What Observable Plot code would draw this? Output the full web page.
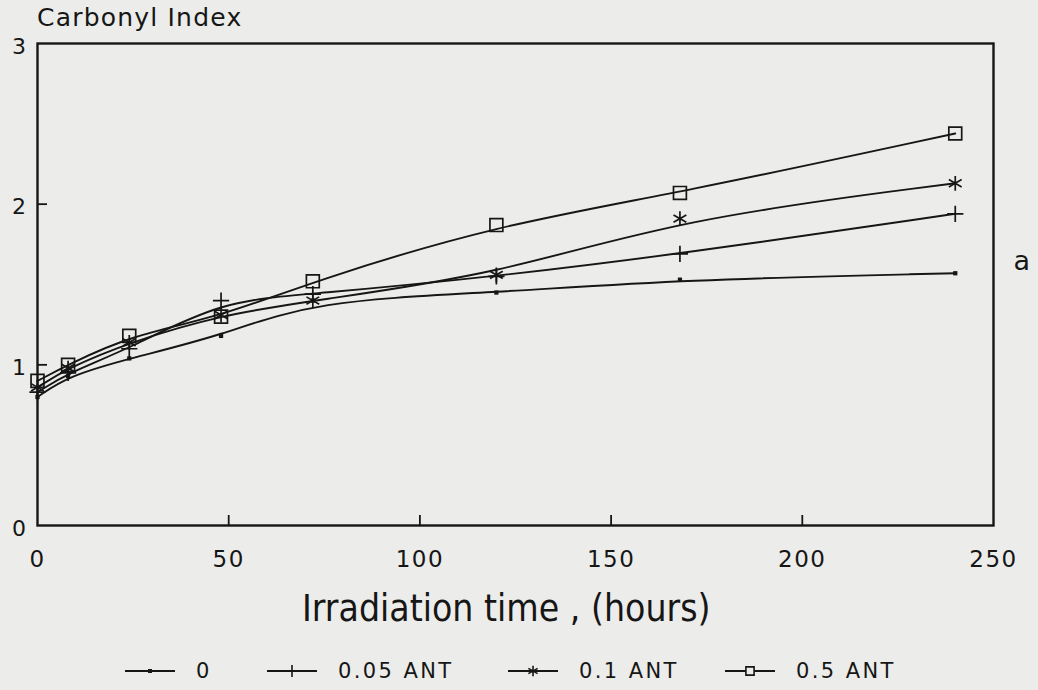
<!DOCTYPE html>
<html>
<head>
<meta charset="utf-8">
<script src="https://cdn.jsdelivr.net/npm/d3@7"></script>
<script src="https://cdn.jsdelivr.net/npm/@observablehq/plot@0.6"></script>
<style>
  html, body { margin: 0; padding: 0; background: #ececea; }
  #wrap { position: relative; width: 1038px; height: 690px; background: #ececea; overflow: hidden; color: #161616; }
  #title { position: absolute; left: 37px; top: 5px; font: 25px "DejaVu Sans", sans-serif; line-height: 25px; letter-spacing: 1.2px; white-space: nowrap; }
  #chart { position: absolute; left: 0; top: 30px; }
  #xlabel { position: absolute; left: 302px; top: 590px; font-family: "DejaVu Sans Condensed", "DejaVu Sans", sans-serif; font-stretch: condensed; font-size: 37px; line-height: 37px; white-space: nowrap; }
  .leg { position: absolute; top: 659px; height: 24px; display: flex; align-items: center; font: 21px "DejaVu Sans", sans-serif; letter-spacing: 2.4px; white-space: nowrap; }
  .leg svg { display: block; margin-right: 21px; }
</style>
</head>
<body>
<div id="wrap">
  <div id="title">Carbonyl Index</div>
  <div id="chart"></div>
  <div id="xlabel">Irradiation time , (hours)</div>
</div>
<script>
// ---- data ----
const hours = [0, 8, 24, 48, 72, 120, 168, 240];
const ci0    = [0.80, 0.93, 1.04, 1.18, 1.40, 1.45, 1.53, 1.57];
const ci005  = [0.83, 0.95, 1.10, 1.40, 1.44, 1.55, 1.69, 1.94];
const ci01   = [0.86, 0.98, 1.14, 1.31, 1.40, 1.56, 1.91, 2.13];
const ci05   = [0.90, 1.00, 1.18, 1.30, 1.52, 1.87, 2.07, 2.44];
const seriesNames = ["0", "0.05 ANT", "0.1 ANT", "0.5 ANT"];
const seriesValues = [ci0, ci005, ci01, ci05];
const xTicks = [0, 50, 100, 150, 200, 250];
const yTicks = [0, 1, 2, 3];
const xInnerTicks = [50, 100, 150, 200];
const yInnerTicks = [1, 2];
const panelLabel = "a";

// ---- styling ----
const ink = "#161616";
const symbolStyle = {
  "0":        {symbol: "square",   r: 2.4, fill: ink,    stroke: "none"},
  "0.05 ANT": {symbol: "plus",     r: 5.3, fill: "none", stroke: ink},
  "0.1 ANT":  {symbol: "asterisk", r: 7.0, fill: "none", stroke: ink},
  "0.5 ANT":  {symbol: "square2",  r: 8.2, fill: "none", stroke: ink}
};
const legendLeft = [125, 267, 508, 725];

const W = 1038, H = 560, mL = 37, mR = 45, mT = 13, mB = 65;
const xDomain = [0, 250], yDomain = [0, 3];
const tickLen = 10;
const xTickLenData = tickLen * (xDomain[1] - xDomain[0]) / (W - mL - mR);
const yTickLenData = tickLen * (yDomain[1] - yDomain[0]) / (H - mT - mB);

const rows = seriesNames.flatMap((s, i) => hours.map((t, j) => ({series: s, t, v: seriesValues[i][j]})));

const marks = [
  Plot.frame({stroke: ink, strokeWidth: 2.4}),
  Plot.ruleY(yInnerTicks, {y: d => d, x1: xDomain[0], x2: xDomain[0] + xTickLenData, stroke: ink, strokeWidth: 1.8}),
  Plot.ruleX(xInnerTicks, {x: d => d, y1: yDomain[0], y2: yDomain[0] + yTickLenData, stroke: ink, strokeWidth: 1.8}),
  Plot.axisY({ticks: yTicks, tickSize: 0, tickPadding: 10, fontSize: 22, dy: 3, label: null, tickFormat: d3.format("d")}),
  Plot.axisX({ticks: xTicks, tickSize: 0, tickPadding: 25, fontSize: 23, label: null, tickFormat: d3.format("d")}),
  Plot.line(rows, {x: "t", y: "v", z: "series", curve: "basis", stroke: ink, strokeWidth: 1.9}),
  ...seriesNames.map(s => Plot.dot(rows.filter(d => d.series === s), {
    x: "t", y: "v", symbol: symbolStyle[s].symbol, r: symbolStyle[s].r,
    fill: symbolStyle[s].fill, stroke: symbolStyle[s].stroke, strokeWidth: 1.7
  })),
  Plot.text([panelLabel], {text: d => d, frameAnchor: "right", textAnchor: "start", dx: 20, dy: -23, fontSize: 27, fill: ink})
];

const chart = Plot.plot({
  width: W, height: H,
  marginLeft: mL, marginRight: mR, marginTop: mT, marginBottom: mB,
  x: {domain: xDomain},
  y: {domain: yDomain},
  style: {background: "transparent", color: ink, fontFamily: "'DejaVu Sans', sans-serif", letterSpacing: "1.5px"},
  marks
});
document.getElementById("chart").appendChild(chart);

// ---- legend (below the plot) ----
const wrap = document.getElementById("wrap");
const symType = {square: d3.symbolSquare, plus: d3.symbolPlus, asterisk: d3.symbolAsterisk, square2: d3.symbolSquare2};
const legendSize = {"0": 16, "0.05 ANT": 48, "0.1 ANT": 80, "0.5 ANT": 85};
seriesNames.forEach((s, i) => {
  const item = document.createElement("div");
  item.className = "leg";
  item.style.left = legendLeft[i] + "px";
  const st = symbolStyle[s];
  const svg = d3.create("svg").attr("width", 50).attr("height", 24);
  svg.append("line").attr("x1", 0).attr("x2", 50).attr("y1", 12).attr("y2", 12)
    .attr("stroke", ink).attr("stroke-width", 1.8);
  svg.append("path").attr("transform", "translate(25,12)")
    .attr("d", d3.symbol(symType[st.symbol], legendSize[s])())
    .attr("fill", st.fill === "none" ? "#ececea" : st.fill).attr("stroke", st.stroke).attr("stroke-width", 1.6);
  item.appendChild(svg.node());
  const label = document.createElement("span");
  label.textContent = s;
  item.appendChild(label);
  wrap.appendChild(item);
});
</script>
</body>
</html>
